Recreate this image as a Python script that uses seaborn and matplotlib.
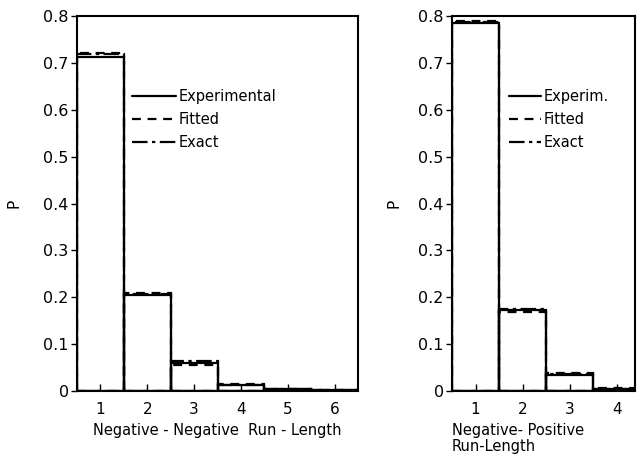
import numpy as np
import pandas as pd
import seaborn as sns
import matplotlib
matplotlib.use("Agg")
import matplotlib.pyplot as plt
from matplotlib.lines import Line2D

# ---- data ----
left_runs = [1, 2, 3, 4, 5, 6]
left_experimental = [0.712, 0.205, 0.060, 0.013, 0.005, 0.002]
left_fitted = [0.720, 0.210, 0.055, 0.015, 0.004, 0.002]
left_exact = [0.718, 0.208, 0.064, 0.012, 0.005, 0.002]

right_runs = [1, 2, 3, 4]
right_experimental = [0.785, 0.172, 0.035, 0.005]
right_fitted = [0.790, 0.168, 0.038, 0.006]
right_exact = [0.788, 0.175, 0.036, 0.005]

y_ticks = [0, 0.1, 0.2, 0.3, 0.4, 0.5, 0.6, 0.7, 0.8]
y_ticklabels = ["0", "0.1", "0.2", "0.3", "0.4", "0.5", "0.6", "0.7", "0.8"]

sns.set_style("white")
plt.rcParams["font.family"] = ["DejaVu Sans"]
for k in ["text.color", "axes.labelcolor", "xtick.color", "ytick.color", "axes.edgecolor"]:
    plt.rcParams[k] = "black"

fig = plt.figure(figsize=(6.37, 4.57), dpi=100)
ax1 = fig.add_axes([0.121, 0.1444, 0.441, 0.8206])
ax2 = fig.add_axes([0.7096, 0.1444, 0.2873, 0.8206])

styles = {"Experimental": "-", "Fitted": (0, (4, 3)), "Exact": (0, (7, 2, 1.5, 2))}


def draw(ax, runs, series, xmax, labelpad):
    for (name, vals) in series:
        df = pd.DataFrame({"run": runs, "p": vals})
        sns.histplot(data=df, x="run", weights="p", discrete=True, element="bars",
                     fill=False, color="black", linewidth=1.6,
                     linestyle=styles[name], ax=ax)
    ax.set_xlim(0.5, xmax)
    ax.set_ylim(0, 0.8)
    ax.set_xticks(runs)
    ax.set_xticklabels([str(r) for r in runs], fontsize=11)
    ax.set_yticks(y_ticks)
    ax.set_yticklabels(y_ticklabels, fontsize=11.5)
    ax.tick_params(axis="x", direction="in", length=5, width=1, bottom=True, pad=8,
                   colors="black")
    ax.tick_params(axis="y", direction="out", length=4, width=1, left=True, pad=2,
                   colors="black")
    for s in ax.spines.values():
        s.set_color("black")
        s.set_linewidth(1.5)
    ax.set_ylabel("P", fontsize=11, labelpad=labelpad, color="black")
    handles = [Line2D([], [], color="black", lw=1.6, linestyle=styles[n]) for n, _ in series]
    return handles


h1 = draw(ax1, left_runs,
          [("Experimental", left_experimental), ("Fitted", left_fitted), ("Exact", left_exact)],
          6.5, 16)
ax1.set_xlabel("Negative - Negative  Run - Length", fontsize=10.5, labelpad=4)
ax1.legend(h1, ["Experimental", "Fitted", "Exact"], loc="upper left",
           bbox_to_anchor=(0.17, 0.825), frameon=False, fontsize=10.5,
           handlelength=3.0, handletextpad=0.2, labelspacing=0.55, borderpad=0)

h2 = draw(ax2, right_runs,
          [("Experimental", right_experimental), ("Fitted", right_fitted), ("Exact", right_exact)],
          4.39, 12)
ax2.set_xlabel("Negative- Positive\nRun-Length", fontsize=10.5, labelpad=4,
               ha="left", x=0.0, linespacing=1.1)
ax2.legend(h2, ["Experim.", "Fitted", "Exact"], loc="upper left",
           bbox_to_anchor=(0.27, 0.825), frameon=False, fontsize=10.5,
           handlelength=2.2, handletextpad=0.2, labelspacing=0.55, borderpad=0)

fig.savefig("out.png", dpi=100, facecolor="white")
